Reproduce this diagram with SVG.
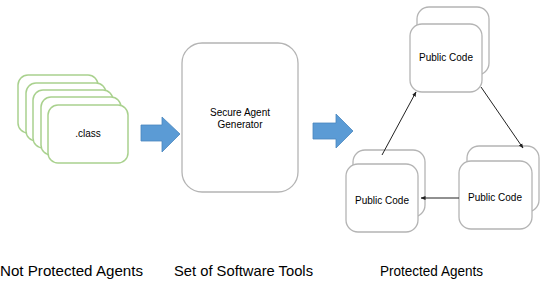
<svg xmlns="http://www.w3.org/2000/svg" width="542" height="286" viewBox="0 0 542 286">
<style>
.g{fill:#fff;stroke:#a9d18e;stroke-width:1.5}
.c{fill:#fff;stroke:#b4b4b4;stroke-width:1.3}
.t{font-family:"Liberation Sans",Arial,sans-serif;fill:#000;text-anchor:middle}
.s{font-size:10px}
.b{font-size:15px}
.ba{fill:#5b9bd5;stroke:#4a86be;stroke-width:0.8}
.e{stroke:#222;stroke-width:1;fill:none;marker-end:url(#ah)}
</style>
<defs>
<marker id="ah" viewBox="0 0 10 10" refX="9" refY="5" markerWidth="5" markerHeight="5" orient="auto">
<path d="M0,1 L10,5 L0,9 z" fill="#222"/>
</marker>
</defs>
<rect width="542" height="286" fill="#fff"/>
<g id="class-stack">
<rect class="g" x="18" y="75" width="80" height="58" rx="10"/>
<rect class="g" x="26" y="83" width="80" height="58" rx="10"/>
<rect class="g" x="33" y="90" width="80" height="58" rx="10"/>
<rect class="g" x="41" y="97" width="80" height="58" rx="10"/>
<rect class="g" x="48" y="105" width="80" height="58" rx="10"/>
<text class="t s" x="88" y="137">.class</text>
</g>
<g id="arrow1">
<path class="ba" d="M141,125 H162 V117 L180,134 L162,152 V141 H141 z"/>
</g>
<g id="generator">
<rect class="c" x="182" y="43" width="116" height="149" rx="20"/>
<text class="t s" x="240" y="116">Secure Agent</text>
<text class="t s" x="240" y="128">Generator</text>
</g>
<g id="arrow2">
<path class="ba" d="M313,123 H336 V114 L353,131 L336,148 V139 H313 z"/>
</g>
<g id="top-code">
<rect class="c" x="417" y="7" width="72" height="68" rx="12"/>
<rect class="c" x="410" y="24" width="72" height="68" rx="12"/>
<text class="t s" x="446" y="61">Public Code</text>
</g>
<g id="left-code">
<rect class="c" x="353" y="150" width="72" height="67" rx="12"/>
<rect class="c" x="346" y="164" width="72" height="68" rx="12"/>
<text class="t s" x="382" y="204">Public Code</text>
</g>
<g id="right-code">
<rect class="c" x="467" y="146" width="72" height="66" rx="12"/>
<rect class="c" x="459" y="161" width="73" height="68" rx="12"/>
<text class="t s" x="495" y="201">Public Code</text>
</g>
<g id="connectors">
<line class="e" x1="382" y1="155" x2="416" y2="92"/>
<line class="e" x1="481" y1="87" x2="523" y2="148"/>
<line class="e" x1="459" y1="198" x2="421" y2="198"/>
</g>
<g id="labels">
<text class="t b" x="71.5" y="276" textLength="143" lengthAdjust="spacingAndGlyphs">Not Protected Agents</text>
<text class="t b" x="243.5" y="276" textLength="139" lengthAdjust="spacingAndGlyphs">Set of Software Tools</text>
<text class="t b" x="431.5" y="276" textLength="103" lengthAdjust="spacingAndGlyphs">Protected Agents</text>
</g>
</svg>
